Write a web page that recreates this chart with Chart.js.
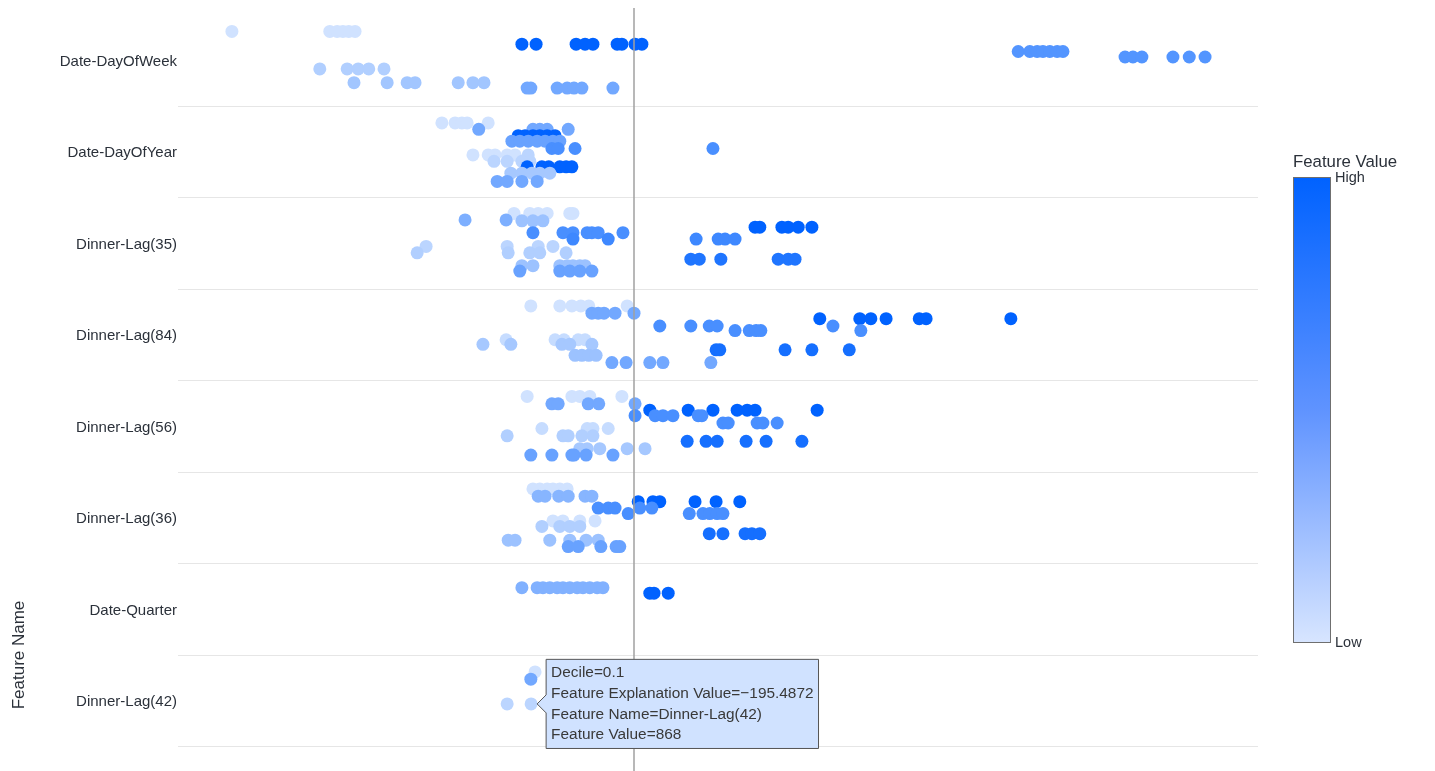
<!DOCTYPE html>
<html>
<head>
<meta charset="utf-8">
<script src="https://cdn.jsdelivr.net/npm/chart.js@4.4.1/dist/chart.umd.min.js"></script>
<style>
  html, body { margin: 0; background: #fff; }
</style>
</head>
<body>
<canvas id="chart" width="1435" height="771"></canvas>
<script>
// Feature names, top to bottom
const features = ['Date-DayOfWeek', 'Date-DayOfYear', 'Dinner-Lag(35)', 'Dinner-Lag(84)',
  'Dinner-Lag(56)', 'Dinner-Lag(36)', 'Date-Quarter', 'Dinner-Lag(42)'];

// Each row: [vertical jitter inside the band, feature value decile, explanation values]
const dayOfWeekRows = [
  [-0.31, 0,    [-764, -578, -564, -553, -542, -530]],
  [-0.17, 1,    [-213, -186, -110, -93, -78, -32, -23, 2, 15]],
  [-0.09, 0.6,  [730, 752, 766, 777, 790, 804, 815]],
  [-0.03, 0.6,  [933, 948, 965, 1024, 1055, 1085]],
  [0.10,  0.15, [-597, -545, -524, -504, -475]],
  [0.25,  0.22, [-532, -469, -431, -416, -334, -306, -285]],
  [0.31,  0.45, [-203, -196, -146, -127, -114, -99, -40]],
];
const dayOfYearRows = [
  [-0.31, 0,    [-365, -340, -327, -317, -277]],
  [-0.24, 0.45, [-295, -192, -179, -165, -125]],
  [-0.17, 1,    [-220, -207, -192, -179, -165, -150]],
  [-0.11, 0.5,  [-232, -217, -201, -184, -169, -154, -141]],
  [-0.03, 0.65, [-156, -144, -112, 150]],
  [0.04,  0,    [-306, -277, -264, -241, -226]],
  [0.04,  0.1,  [-201]],
  [0.11,  0.1,  [-266, -241, -213, -198]],
  [0.17,  1,    [-203, -175, -162, -141, -129, -118]],
  [0.24,  0.2,  [-234, -213, -194, -179, -160]],
  [0.33,  0.45, [-260, -241, -213, -184]],
];
const lag35Rows = [
  [-0.32, 0,    [-228, -198, -182, -165, -122, -116]],
  [-0.25, 0.4,  [-321, -243]],
  [-0.24, 0.25, [-213, -192, -173]],
  [-0.17, 1,    [230, 239, 281, 293, 312, 338]],
  [-0.11, 0.65, [-192, -135, -116, -89, -80, -68, -21]],
  [-0.04, 0.7,  [-116, -49, 118, 160, 173, 192]],
  [0.04,  0.1,  [-395, -241, -182, -154]],
  [0.11,  0.15, [-412, -239, -198, -179, -129]],
  [0.18,  0.85, [108, 124, 165, 274, 293, 306]],
  [0.25,  0.25, [-213, -192, -141, -127, -116, -103, -93]],
  [0.31,  0.5,  [-217, -141, -122, -103, -80]],
];
const lag84Rows = [
  [-0.31, 0,    [-196, -141, -118, -101, -86, -13]],
  [-0.23, 0.45, [-80, -68, -57, -36, 0]],
  [-0.17, 1,    [353, 429, 450, 479, 542, 555, 716]],
  [-0.09, 0.65, [49, 108, 143, 158, 378]],
  [-0.04, 0.65, [192, 219, 232, 241, 431]],
  [0.06,  0.05, [-243, -150, -133, -106, -93]],
  [0.11,  0.2,  [-287, -234, -137, -122, -80]],
  [0.17,  0.9,  [156, 163, 287, 338, 409]],
  [0.23,  0.25, [-112, -99, -86, -72]],
  [0.31,  0.45, [-42, -15, 30, 55, 146]],
];
const lag56Rows = [
  [-0.32, 0,    [-203, -118, -103, -84, -23]],
  [-0.24, 0.45, [-156, -144, -87, -67, 2]],
  [-0.17, 1,    [30, 103, 150, 196, 215, 230, 348]],
  [-0.11, 0.65, [2, 40, 55, 74, 122, 129]],
  [-0.03, 0.65, [169, 179, 234, 245, 272]],
  [0.03,  0.05, [-175, -89, -78, -49]],
  [0.11,  0.15, [-241, -135, -125, -99, -78]],
  [0.17,  0.9,  [101, 137, 158, 213, 251, 319]],
  [0.25,  0.2,  [-103, -89, -65, -13, 21]],
  [0.32,  0.5,  [-196, -156, -118, -114, -91, -40]],
];
const lag36Rows = [
  [-0.31, 0,    [-192, -179, -165, -154, -141, -127]],
  [-0.23, 0.35, [-182, -169, -143, -125, -93, -80]],
  [-0.17, 1,    [8, 36, 49, 116, 156, 201]],
  [-0.10, 0.65, [-68, -49, -36, 11, 34]],
  [-0.04, 0.65, [-11, 105, 131, 144, 158, 169]],
  [0.04,  0,    [-154, -135, -103, -74]],
  [0.10,  0.15, [-175, -141, -122, -103]],
  [0.18,  0.9,  [143, 169, 211, 224, 239]],
  [0.25,  0.25, [-239, -226, -160, -122, -91, -68]],
  [0.32,  0.5,  [-125, -106, -63, -34, -27]],
];
const quarterRows = [
  [-0.23, 0.38, [-213, -184, -173, -160, -146, -135, -122, -108, -97, -84, -70, -59]],
  [-0.17, 1,    [30, 38, 65]],
];
const lag42Rows = [
  [-0.31, 0,    [-188]],
  [-0.23, 0.45, [-196]],
  [0.04,  0.1,  [-241, -195.4872]],
];
const featureRows = [dayOfWeekRows, dayOfYearRows, lag35Rows, lag84Rows,
  lag56Rows, lag36Rows, quarterRows, lag42Rows];

// point shown with the tooltip
const hoverFeature = 7;
const hoverExplanation = -195.4872;
const hoverFeatureValue = 868;

const FONT = "'Liberation Sans', Arial, sans-serif";
const TEXT = '#2b313a';
const LOW = [208, 226, 255];
const HIGH = [0, 98, 255];

function shade(d) {
  const c = LOW.map((v, k) => Math.round(v + (HIGH[k] - v) * d));
  return `rgb(${c[0]},${c[1]},${c[2]})`;
}

const datasets = featureRows.map((rows, i) => ({
  label: features[i],
  data: rows.flatMap(([jit, dec, xs]) => xs.map(x => ({ x, y: i + jit, decile: dec }))),
}));

// grid lines between bands, zero line, colour legend, axis title
const decor = {
  id: 'decor',
  beforeDatasetsDraw(chart) {
    const { ctx, chartArea: a, scales: { y } } = chart;
    ctx.save();
    ctx.strokeStyle = '#e6e6e6';
    ctx.lineWidth = 1;
    features.forEach((_, i) => {
      const py = Math.round(y.getPixelForValue(i + 0.5)) + 0.5;
      ctx.beginPath(); ctx.moveTo(a.left, py); ctx.lineTo(a.right, py); ctx.stroke();
    });
    ctx.restore();
  },
  afterDatasetsDraw(chart) {
    const { ctx, scales: { x } } = chart;
    const px = x.getPixelForValue(0);
    ctx.save();
    ctx.strokeStyle = '#a0a0a0';
    ctx.lineWidth = 1.5;
    ctx.beginPath(); ctx.moveTo(px, 8); ctx.lineTo(px, chart.height); ctx.stroke();

    // colour scale
    const g = ctx.createLinearGradient(0, 177, 0, 642);
    g.addColorStop(0, '#0062ff');
    g.addColorStop(0.5, '#5f93ff');
    g.addColorStop(1, '#d7e5ff');
    ctx.fillStyle = g;
    ctx.fillRect(1293, 177, 37, 465);
    ctx.strokeStyle = '#6f6f6f';
    ctx.lineWidth = 1;
    ctx.strokeRect(1293.5, 177.5, 37, 465);
    ctx.fillStyle = TEXT;
    ctx.textBaseline = 'middle';
    ctx.textAlign = 'left';
    ctx.font = `16.8px ${FONT}`;
    ctx.fillText('Feature Value', 1293, 162);
    ctx.font = `14.5px ${FONT}`;
    ctx.fillText('High', 1335, 178);
    ctx.fillText('Low', 1335, 643);

    // y axis title
    ctx.translate(19, 655);
    ctx.rotate(-Math.PI / 2);
    ctx.textAlign = 'center';
    ctx.font = `17px ${FONT}`;
    ctx.fillText('Feature Name', 0, 0);
    ctx.restore();
  },
};

const chart = new Chart(document.getElementById('chart'), {
  type: 'scatter',
  data: { datasets },
  plugins: [decor],
  options: {
    responsive: false,
    animation: false,
    events: [],
    layout: { padding: { left: 0, right: 177, top: 14, bottom: 25 } },
    elements: {
      point: {
        radius: 6.5, hoverRadius: 6.5, borderWidth: 0, hoverBorderWidth: 0,
        backgroundColor: c => shade(c.raw ? c.raw.decile : 0),
        hoverBackgroundColor: c => shade(c.raw ? c.raw.decile : 0),
      },
    },
    scales: {
      x: { type: 'linear', display: false, min: -866.4, max: 1185.6 },
      y: {
        type: 'linear', min: -0.5, max: 7.5, reverse: true,
        grid: { display: false, drawTicks: false },
        border: { display: false },
        afterBuildTicks: s => { s.ticks = features.map((_, i) => ({ value: i })); },
        afterFit: s => { s.width = 178; },
        ticks: {
          padding: 1, labelOffset: 2, color: TEXT, font: { family: FONT, size: 15 },
          callback: v => features[v],
        },
      },
    },
    plugins: {
      legend: { display: false },
      tooltip: {
        backgroundColor: '#d0e2ff',
        borderColor: '#555555', borderWidth: 1,
        bodyColor: '#393939', bodyFont: { family: FONT, size: 15.4 },
        padding: { x: 5, y: 4 }, bodySpacing: 2.4, cornerRadius: 0,
        caretSize: 9, caretPadding: 6,
        xAlign: 'left', yAlign: 'center',
        displayColors: false,
        callbacks: {
          title: () => [],
          label: c => [
            `Decile=${c.raw.decile}`,
            `Feature Explanation Value=${c.raw.x.toFixed(4).replace('-', '\u2212')}`,
            `Feature Name=${features[c.datasetIndex]}`,
            `Feature Value=${hoverFeatureValue}`,
          ],
        },
      },
    },
  },
});

const hoverIndex = datasets[hoverFeature].data.findIndex(p => p.x === hoverExplanation);
chart.tooltip.setActiveElements([{ datasetIndex: hoverFeature, index: hoverIndex }], { x: 0, y: 0 });
chart.update();
</script>
</body>
</html>
